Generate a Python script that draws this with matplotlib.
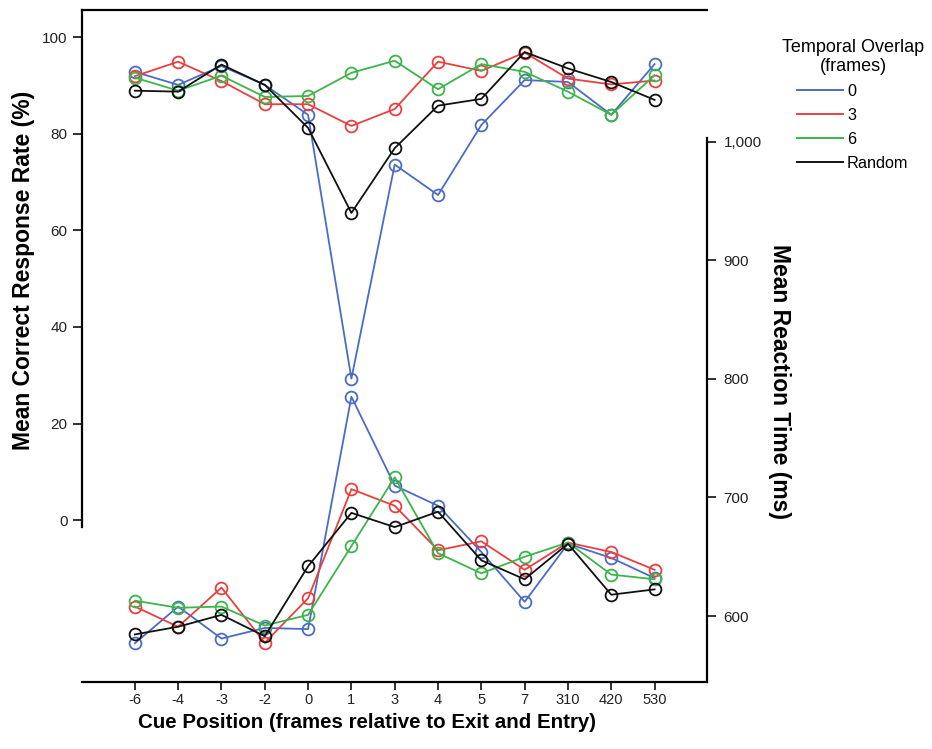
import matplotlib
matplotlib.use("Agg")
import matplotlib.pyplot as plt
from matplotlib.lines import Line2D

plt.rcParams['font.family'] = ['Liberation Sans', 'DejaVu Sans']

positions = ['-6', '-4', '-3', '-2', '0', '1', '3', '4', '5', '7', '310', '420', '530']
series_names = ['0', '3', '6', 'Random']
colors = ['#4a6cc4', '#e8403f', '#3db54a', '#111111']

acc_0 = [92.8, 90.1, 94.0, 90.1, 83.9, 29.3, 73.6, 67.3, 81.8, 91.1, 90.7, 83.9, 94.4]
acc_3 = [91.9, 94.9, 90.9, 86.1, 86.1, 81.6, 85.1, 94.9, 93.0, 96.8, 91.4, 90.2, 91.0]
acc_6 = [91.6, 88.9, 92.0, 87.6, 87.8, 92.6, 95.1, 89.2, 94.4, 92.8, 88.7, 83.9, 92.1]
acc_R = [88.9, 88.7, 94.3, 90.1, 81.2, 63.6, 77.0, 85.8, 87.2, 96.9, 93.5, 90.7, 87.0]

rt_0 = [577, 608, 581, 590, 589, 785, 710, 693, 654, 612, 661, 649, 632]
rt_3 = [608, 591, 624, 577.5, 615, 707, 693, 655.5, 663, 639, 662, 654, 639]
rt_6 = [613, 607, 608, 592, 601, 659, 717, 653, 636, 650, 662, 635, 631]
rt_R = [584.5, 591, 601, 583, 642, 687, 675, 688, 647, 631, 661, 618, 622.5]

acc_ticks = [0, 20, 40, 60, 80, 100]
rt_ticks = [600, 700, 800, 900, 1000]
rt_ticklabels = ['600', '700', '800', '900', '1,000']

acc_series = [acc_0, acc_3, acc_6, acc_R]
rt_series = [rt_0, rt_3, rt_6, rt_R]

fig = plt.figure(figsize=(9.32, 7.49), dpi=100)
ax = fig.add_axes([82/932, 1-682/749, (707-82)/932, (682-10)/749])
ax2 = ax.twinx()

x = list(range(len(positions)))
mk = dict(marker='o', markersize=8.5, markerfacecolor='none', markeredgewidth=1.3, linewidth=1.3)
for ys, c in zip(acc_series, colors):
    ax.plot(x, ys, color=c, markeredgecolor=c, **mk)
for ys, c in zip(rt_series, colors):
    ax2.plot(x, ys, color=c, markeredgecolor=c, **mk)

ax.set_xlim(-1.22, 13.21)
ax.set_ylim(-33.5, 105.6)
ax2.set_ylim(544.4, 1111)

ax.set_xticks(x)
ax.set_xticklabels(positions)
ax.set_yticks(acc_ticks)
ax2.set_yticks(rt_ticks)
ax2.set_yticklabels(rt_ticklabels)

lw = 1.6
for s in ['left', 'top', 'bottom']:
    ax.spines[s].set_linewidth(lw)
ax.spines['right'].set_visible(False)
ax.spines['left'].set_bounds(-1.5, 105.6)
for s in ['left', 'top', 'bottom']:
    ax2.spines[s].set_visible(False)
ax2.spines['right'].set_linewidth(lw)
ax2.spines['right'].set_bounds(544.4, 1003)

ax.tick_params(axis='x', direction='out', length=6, width=1.3, labelsize=10.5,
               colors='#222222', pad=2)
ax.tick_params(axis='y', direction='out', length=6.5, width=1.3, labelsize=11,
               colors='#222222', pad=4)
ax2.tick_params(axis='y', direction='out', length=6.5, width=1.3, labelsize=11,
                colors='#222222', pad=5.5)
ax2.tick_params(axis='x', which='both', bottom=False, top=False)

fig.text(24/932, 1-270/749, 'Mean Correct Response Rate (%)', rotation=90,
         ha='center', va='center', fontsize=16.5, fontweight='bold')
fig.text(780/932, 1-382/749, 'Mean Reaction Time (ms)', rotation=270,
         ha='center', va='center', fontsize=16.5, fontweight='bold')
fig.text(367/932, 1-723/749, 'Cue Position (frames relative to Exit and Entry)',
         ha='center', va='center', fontsize=14.8, fontweight='bold')

handles = [Line2D([0], [0], color=c, linewidth=1.4) for c in colors]
leg = fig.legend(handles, series_names, title='Temporal Overlap\n(frames)',
                 loc='upper center', bbox_to_anchor=(853/932, 1-24/749),
                 frameon=False, fontsize=11.7, title_fontsize=13,
                 handlelength=2.8, handletextpad=0.25, labelspacing=0.55)
leg.get_title().set_multialignment('center')

fig.savefig('out.png', dpi=100)
